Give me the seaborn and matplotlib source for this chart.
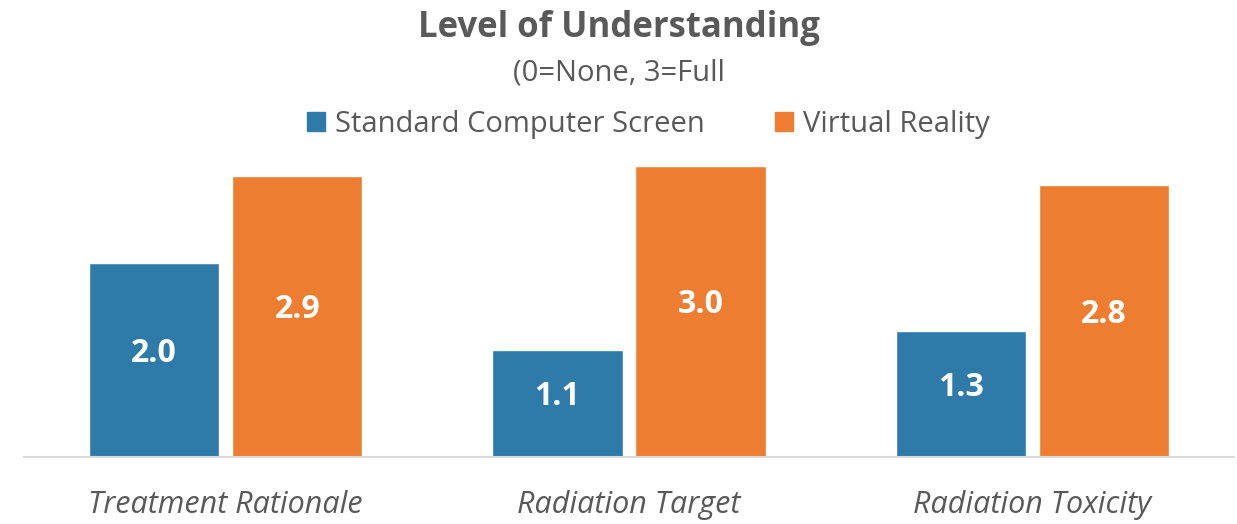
import pandas as pd
import matplotlib.pyplot as plt
import seaborn as sns

# ------------------------------------------
# Data
# ------------------------------------------
categories = ['Treatment Rationale', 'Radiation Target', 'Radiation Toxicity']
series_names = ['Standard Computer Screen', 'Virtual Reality']
screen_values = [2.0, 1.1, 1.3]
vr_values = [2.9, 3.0, 2.8]

df = pd.DataFrame({
    'Category': categories * 2,
    'Group': [series_names[0]] * 3 + [series_names[1]] * 3,
    'Score': screen_values + vr_values,
})

colors = {'Standard Computer Screen': '#2E7BAA', 'Virtual Reality': '#ED7D31'}
text_grey = '#595959'

sns.set_style('white')
plt.rcParams['font.family'] = ['Open Sans', 'DejaVu Sans']

# ------------------------------------------
# Plot
# ------------------------------------------
fig = plt.figure(figsize=(12.37, 5.24), dpi=100)
ax = fig.add_axes([24 / 1237, 1 - 457 / 524, 1210 / 1237, 307 / 524])

sns.barplot(data=df, x='Category', y='Score', hue='Group', order=categories,
            hue_order=series_names, palette=colors, width=0.71, gap=0.09,
            saturation=1, legend=False, ax=ax)

for container in ax.containers:
    anns = ax.bar_label(container, fmt='%.1f', label_type='center', color='white',
                        fontsize=23, fontweight='bold')
    for a in anns:
        a.xyann = (0, 5)

ax.set_xlim(-0.5, 2.5)
ax.set_ylim(0, 307 / 97)
ax.set_xlabel('')
ax.set_ylabel('')
ax.set_yticks([])
ax.tick_params(axis='x', length=0, pad=24)
for lbl in ax.get_xticklabels():
    lbl.set_fontstyle('italic')
    lbl.set_fontsize(22)
    lbl.set_color(text_grey)
for side in ['top', 'right', 'left']:
    ax.spines[side].set_visible(False)
ax.spines['bottom'].set_color('#D9D9D9')
ax.spines['bottom'].set_linewidth(1.5)

fig.text(0.5, 1 - 28 / 524, 'Level of Understanding', ha='center', va='center',
         fontsize=25, fontweight='bold', color=text_grey)
fig.text(0.5, 1 - 73 / 524, '(0=None, 3=Full', ha='center', va='center',
         fontsize=21, color=text_grey)

handles = [plt.Rectangle((0, 0), 1, 1, color=colors[n]) for n in series_names]
fig.legend(handles, series_names, loc='center', bbox_to_anchor=(0.524, 1 - 124 / 524),
           ncol=2, frameon=False, fontsize=21, handlelength=0.62, handleheight=0.62,
           handletextpad=0.35, columnspacing=2.4, labelcolor=text_grey)

fig.savefig('out.png', dpi=100)
